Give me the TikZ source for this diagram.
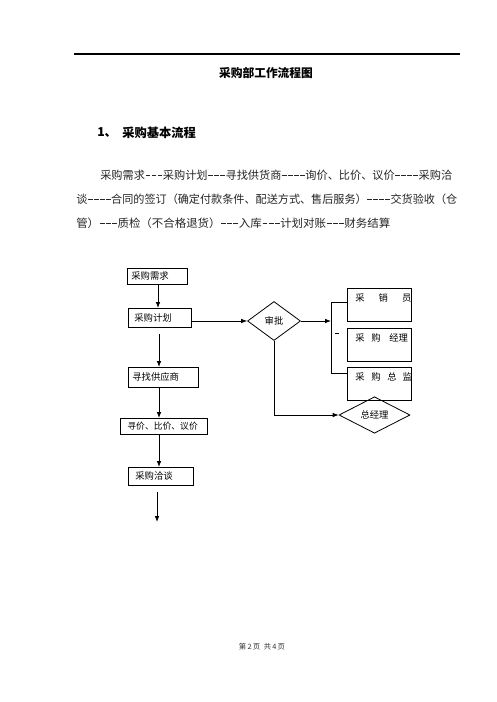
\documentclass[tikz,border=0pt]{standalone}
\usepackage{fontspec}
\setmainfont{Liberation Serif}
\newfontfamily\cjk{Noto Sans CJK SC}
\usetikzlibrary{arrows.meta,shapes.geometric}
\newcommand\hy{\makebox[4.5pt]{\rule[2.4pt]{3.6pt}{0.55pt}}}
\begin{document}
\begin{tikzpicture}[x=0.75pt,y=-0.75pt,
  txt/.style={inner sep=0pt,anchor=west},
  body/.style={txt,font=\cjk\fontsize{8.4}{9}\selectfont,text=black!85},
  box/.style={draw,line width=0.6pt,anchor=north west,inner ysep=0pt,align=left,
    font=\cjk\fontsize{7}{8}\selectfont},
  tallbox/.style={box,text width=36pt,inner xsep=6pt,minimum height=24.75pt,text height=5.5pt,text depth=10pt},
  dia/.style={draw,shape=diamond,inner sep=0pt,line width=0.6pt,font=\cjk\fontsize{7}{8}\selectfont},
  con/.style={line width=0.6pt},
  arr/.style={con,-{Latex[length=4.5pt,width=3.5pt]}}]
\useasboundingbox (0,0) rectangle (496,702);
\fill[white] (0,0) rectangle (496,702);
% header rule and titles
\draw[line width=0.8pt] (74,54) -- (460,54);
\node[inner sep=0pt,font=\cjk\bfseries\fontsize{8.8}{9}\selectfont] (title) at (266,73) {采购部工作流程图};
\node[txt,font=\cjk\bfseries\fontsize{9.2}{9}\selectfont] (num) at (97,133) {1、};
\node[txt,font=\cjk\bfseries\fontsize{9.2}{9}\selectfont] (head) at (122,133) {采购基本流程};
\node[body] (l1) at (100,175) {\resizebox{264pt}{\height}{采购需求\hy\hy\hy 采购计划\hy\hy\hy 寻找供货商\hy\hy\hy\hy 询价、比价、议价\hy\hy\hy\hy 采购洽}};
\node[body] (l2) at (76,199) {\resizebox{285.75pt}{\height}{谈\hy\hy\hy\hy 合同的签订（确定付款条件、配送方式、售后服务）\hy\hy\hy\hy 交货验收（仓}};
\node[body] (l3) at (76,223) {\resizebox{235.5pt}{\height}{管）\hy\hy\hy 质检（不合格退货）\hy\hy\hy 入库\hy\hy\hy 计划对账\hy\hy\hy 财务结算}};
% left column
\node[box,text width=39pt,inner xsep=3pt,minimum height=12pt] (b1) at (127,268) {采购需求};
\node[box,text width=38.25pt,inner xsep=4.5pt,minimum height=14.25pt] (b2) at (128,308) {采购计划};
\node[box,text width=46.5pt,inner xsep=3pt,minimum height=15pt] (b3) at (128,367) {寻找供应商};
\node[box,text width=54.75pt,inner xsep=5.25pt,minimum height=12pt,font=\cjk\fontsize{6.6}{8}\selectfont] (b4) at (120,418) {寻价、比价、议价};
\node[box,text width=38.25pt,inner xsep=5.25pt,minimum height=13.5pt] (b5) at (128,467) {采购洽谈};
% approval
\node[dia,minimum width=39.75pt,minimum height=29.25pt] (sp) at (274,321) {审批};
\node[tallbox] (r1) at (347,288) {\mbox{采\hspace{10.5pt}销\hspace{10.5pt}员}};
\node[tallbox] (r2) at (347,328) {\mbox{采\hspace{5pt}购\hspace{6.5pt}经理}};
\node[tallbox] (r3) at (347,367) {\mbox{采\hspace{5pt}购\hspace{5pt}总\hspace{4.5pt}监}};
\node[dia,minimum width=53.25pt,minimum height=24.75pt] (gm) at (374.5,415) {总经理};
% connector coordinates
\coordinate (col) at (159,0);
\coordinate (bus) at (331,321);
\coordinate (bt) at (331,302);
\coordinate (bb) at (331,373);
\coordinate (m1) at (335,333);
\coordinate (m2) at (339,333);
\coordinate (g1) at (159,334);
\coordinate (e1) at (157,492);
\coordinate (e2) at (157,522);
% connectors
\draw[arr] (b1.south -| 158,0) -- (b2.north -| 158,0);
\draw[arr] (b2.east |- sp.west) -- (sp.west);
\draw[arr] (sp.east) -- (bus);
\draw[con] (bt) -- (bb);
\draw[con] (bt) -- (bt -| r1.west);
\draw[con] (bb) -- (bb -| r3.west);
\draw[con] (m1) -- (m2);
\draw[arr] (sp.south) |- (gm.west);
\draw[arr] (g1) -- (b3.north -| col);
\draw[arr] (b3.south -| col) -- (b4.north -| col);
\draw[arr] (b4.south -| col) -- (b5.north -| col);
\draw[arr] (e1) -- (e2);
% footer
\node[inner sep=0pt,font=\cjk\fontsize{5.5}{6}\selectfont,text=black!80] (foot) at (262,647) {第\,2\,页\enspace 共\,4\,页};
\end{tikzpicture}
\end{document}
